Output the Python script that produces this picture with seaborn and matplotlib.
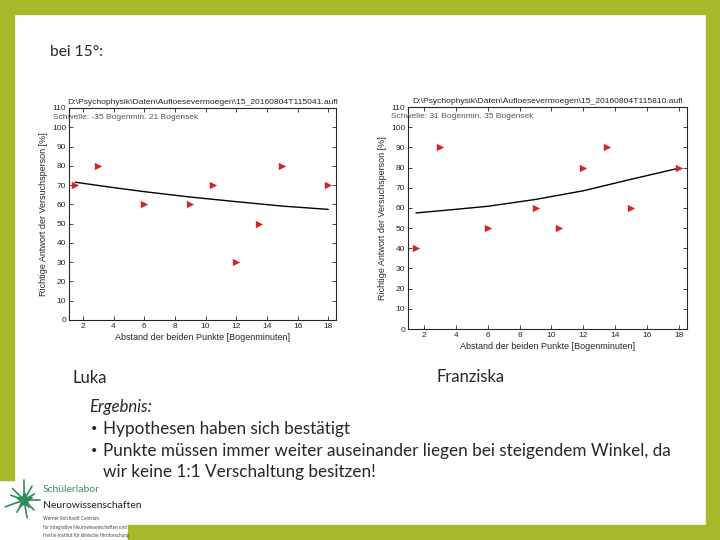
import matplotlib
matplotlib.use("Agg")
import matplotlib.pyplot as plt
from matplotlib.patches import Rectangle
from matplotlib.lines import Line2D
import seaborn as sns
import pandas as pd
import numpy as np

# measured points (distance in arc minutes, % correct)
abstand = [1.5, 3, 6, 9, 10.5, 12, 13.5, 15, 18]
luka = [70, 80, 60, 60, 70, 30, 50, 80, 70]
franziska = [40, 90, 50, 60, 50, 80, 90, 60, 80]

# fitted curves
fit_x = [1.5, 4, 6, 9, 12, 15, 18]
fit_luka = [71.5, 68.7, 66.6, 63.8, 61.4, 59.1, 57.4]
fit_franziska = [57.5, 59.3, 60.8, 64.2, 68.5, 74.2, 79.7]

x_ticks = [2, 4, 6, 8, 10, 12, 14, 16, 18]
y_ticks = list(range(0, 111, 10))

titel_luka = r"D:\Psychophysik\Daten\Aufloesevermoegen\15_20160804T115041.aufl"
titel_franziska = r"D:\Psychophysik\Daten\Aufloesevermoegen\15_20160804T115810.aufl"
schwelle_luka = "Schwelle: -35 Bogenmin. 21 Bogensek"
schwelle_franziska = "Schwelle: 31 Bogenmin. 35 Bogensek"

sns.set_style("ticks")
plt.rcParams['font.family'] = ['Liberation Sans', 'DejaVu Sans']

GREEN = "#A7B82A"
RED = "#D42424"

fig = plt.figure(figsize=(7.2, 5.4), dpi=100)
fig.patch.set_facecolor("white")

# slide frame
W, H = 720, 540
def frame(x0, y0, x1, y1):
    fig.patches.append(Rectangle((x0 / W, 1 - y1 / H), (x1 - x0) / W, (y1 - y0) / H,
                                 transform=fig.transFigure, color=GREEN, zorder=0))
frame(0, 0, 720, 14)
frame(0, 0, 14, 480)
frame(706, 0, 720, 540)
frame(128, 525, 720, 540)


def panel(rect, xs, ys, fx, fy, titel, schwelle, xmin):
    ax = fig.add_axes(rect)
    df = pd.DataFrame({"x": xs, "y": ys})
    fit = pd.DataFrame({"x": fx, "y": fy})
    sns.lineplot(data=fit, x="x", y="y", ax=ax, color="black", lw=1.0)
    sns.scatterplot(data=df, x="x", y="y", ax=ax, marker=">", s=28,
                    color=RED, edgecolor=RED, linewidth=0, zorder=3)
    ax.set_xlim(xmin, 18.5)
    ax.set_ylim(0, 110)
    ax.set_xticks(x_ticks)
    ax.set_yticks(y_ticks)
    ax.tick_params(direction="in", top=True, right=True, length=3, width=0.6,
                   labelsize=6, pad=2)
    for sp in ax.spines.values():
        sp.set_linewidth(0.8)
    ax.set_title(titel, fontsize=6.1, pad=3)
    ax.set_xlabel("Abstand der beiden Punkte [Bogenminuten]", fontsize=6.5, labelpad=2)
    ax.set_ylabel("Richtige Antwort der Versuchsperson [%]", fontsize=6.5, labelpad=3)
    ax.text(-0.06, 0.955, schwelle, transform=ax.transAxes, fontsize=6,
            color="#555555", va="center", ha="left")
    return ax

panel([69 / W, 1 - 320 / H, 267 / W, 212 / H], abstand, luka, fit_x, fit_luka,
      titel_luka, schwelle_luka, 1.1)
panel([408 / W, 1 - 329 / H, 279 / W, 222 / H], abstand, franziska, fit_x, fit_franziska,
      titel_franziska, schwelle_franziska, 1.0)

# slide text
def t(x, y, s, **kw):
    fig.text(x / W, 1 - y / H, s, va="center", ha="left", family=["Lato", "DejaVu Sans"], **kw)

t(50, 52, "bei 15°:", fontsize=11.2)
t(73, 378, "Luka", fontsize=12)
t(437, 377, "Franziska", fontsize=12)
t(89, 407, "Ergebnis:", fontsize=12, style="italic")
t(91, 429, "•", fontsize=8)
t(103, 429, "Hypothesen haben sich bestätigt", fontsize=12.3)
t(91, 451, "•", fontsize=8)
t(103, 451, "Punkte müssen immer weiter auseinander liegen bei steigendem Winkel, da", fontsize=12.3)
t(103, 472, "wir keine 1:1 Verschaltung besitzen!", fontsize=12.3)

# logo
cx, cy = 24, 500
ang = np.deg2rad([90, 135, 160, 200, 240, 280, 315, 0, 30, 60])
lens = [20, 16, 14, 20, 14, 18, 14, 16, 12, 16]
for a, L in zip(ang, lens):
    fig.add_artist(Line2D([cx / W, (cx + L * np.cos(a)) / W],
                          [1 - cy / H, 1 - (cy - L * np.sin(a)) / H],
                          transform=fig.transFigure, color="#2F8A5C", lw=1.2))
fig.add_artist(Line2D([cx / W], [1 - cy / H], marker="*", ms=12, color="#2F8A5C",
                      transform=fig.transFigure))
t(43, 489, "Schülerlabor", fontsize=7.5, color="#3A8F5E")
t(43, 505, "Neurowissenschaften", fontsize=7.5, color="#222222")
t(43, 519, "Werner Reichardt Centrum", fontsize=3.3, color="#444444")
t(43, 527, "für Integrative Neurowissenschaften und", fontsize=3.3, color="#444444")
t(43, 535, "Hertie-Institut für klinische Hirnforschung", fontsize=3.3, color="#444444")

fig.savefig("out.png", dpi=100)
